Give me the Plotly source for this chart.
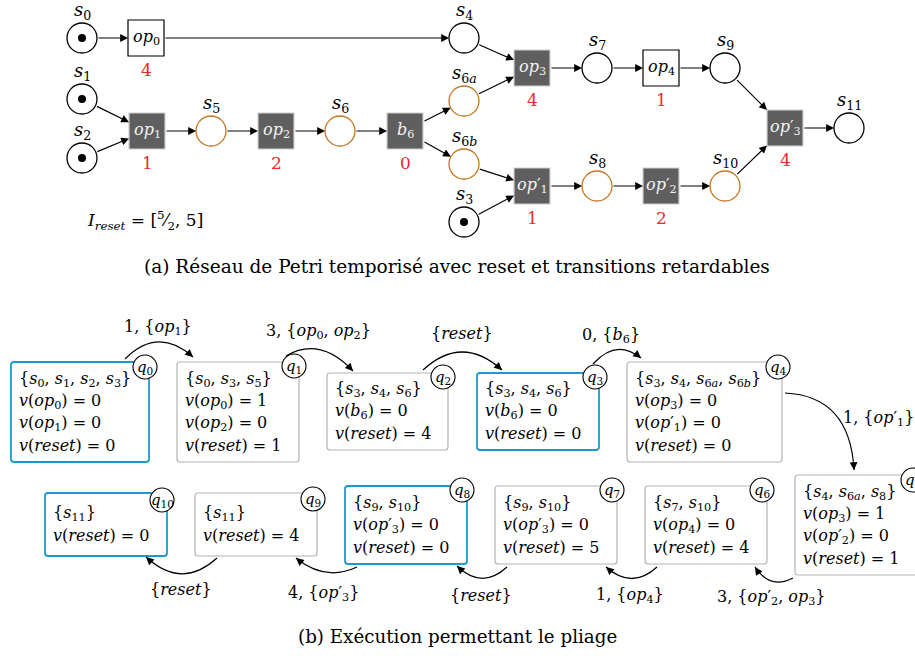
import re
import math
import plotly.graph_objects as go

W, H = 915, 656
FONT = "DejaVu Serif"

# ---------------- data : Petri net ----------------
PLACES = ["s0", "s1", "s2", "s3", "s4", "s5", "s6", "s6a", "s6b", "s7", "s8", "s9", "s10", "s11"]
TOKENS = [1, 1, 1, 1, 0, 0, 0, 0, 0, 0, 0, 0, 0, 0]
RESET_PLACES = ["s5", "s6", "s6a", "s6b", "s8", "s10"]
TRANSITIONS = ["op0", "op1", "op2", "b6", "op3", "op4", "op1'", "op2'", "op3'"]
DELAYS = [4, 1, 2, 0, 4, 1, 1, 2, 4]
DELAYABLE = ["op1", "op2", "b6", "op3", "op1'", "op2'", "op3'"]
ARCS = [("s0", "op0"), ("op0", "s4"), ("s1", "op1"), ("s2", "op1"), ("op1", "s5"),
        ("s5", "op2"), ("op2", "s6"), ("s6", "b6"), ("b6", "s6a"), ("b6", "s6b"),
        ("s4", "op3"), ("s6a", "op3"), ("op3", "s7"), ("s7", "op4"), ("op4", "s9"),
        ("s9", "op3'"), ("s10", "op3'"), ("op3'", "s11"), ("s6b", "op1'"), ("s3", "op1'"),
        ("op1'", "s8"), ("s8", "op2'"), ("op2'", "s10")]
RESET_LOW = ("5", "2")
RESET_HIGH = "5"

# ---------------- data : execution ----------------
STATES = ["q0", "q1", "q2", "q3", "q4", "q5", "q6", "q7", "q8", "q9", "q10"]
MARKINGS = [["s0", "s1", "s2", "s3"], ["s0", "s3", "s5"], ["s3", "s4", "s6"], ["s3", "s4", "s6"],
            ["s3", "s4", "s6a", "s6b"], ["s4", "s6a", "s8"], ["s7", "s10"], ["s9", "s10"],
            ["s9", "s10"], ["s11"], ["s11"]]
CLOCK_VARS = [["op0", "op1", "reset"], ["op0", "op2", "reset"], ["b6", "reset"], ["b6", "reset"],
              ["op3", "op1'", "reset"], ["op3", "op2'", "reset"], ["op4", "reset"],
              ["op3'", "reset"], ["op3'", "reset"], ["reset"], ["reset"]]
CLOCK_VALUES = [[0, 0, 0], [1, 0, 1], [0, 4], [0, 0], [0, 0, 0], [1, 0, 1], [0, 4],
                [0, 5], [0, 0], [4], [0]]
FOLD_STATES = ["q0", "q3", "q8", "q10"]
EDGES = [("q0", "q1"), ("q1", "q2"), ("q2", "q3"), ("q3", "q4"), ("q4", "q5"),
         ("q5", "q6"), ("q6", "q7"), ("q7", "q8"), ("q8", "q9"), ("q9", "q10")]
EDGE_DELAY = [1, 3, None, 0, 1, 3, 1, None, 4, None]
EDGE_FIRED = [["op1"], ["op0", "op2"], ["reset"], ["b6"], ["op1'"], ["op2'", "op3"],
              ["op4"], ["reset"], ["op3'"], ["reset"]]

CAPTION_A = "(a) Réseau de Petri temporisé avec reset et transitions retardables"
CAPTION_B = "(b) Exécution permettant le pliage"

# ---------------- layout (pixel positions) ----------------
POS = {"s0": (82, 38), "s1": (82, 99), "s2": (82, 158), "s3": (464, 222), "s4": (464, 38),
       "s5": (211, 131), "s6": (340, 131), "s6a": (464, 101), "s6b": (464, 164),
       "s7": (597, 68), "s8": (597, 186), "s9": (725, 68), "s10": (725, 186), "s11": (849, 128),
       "op0": (146, 38), "op1": (147, 131), "op2": (276, 131), "b6": (405, 131),
       "op3": (532, 68), "op4": (661, 68), "op1'": (532, 186), "op2'": (661, 186),
       "op3'": (785, 128)}
PR = 15      # place radius
TH = 18      # transition half size

BOX = {"q0": (11, 362, 149, 462), "q1": (177, 362, 299, 462), "q2": (327, 373, 448, 450),
       "q3": (477, 373, 599, 450), "q4": (627, 362, 782, 462), "q5": (795, 475, 935, 575),
       "q6": (645, 486, 767, 564), "q7": (495, 486, 617, 564), "q8": (345, 486, 467, 564),
       "q9": (195, 493, 317, 556), "q10": (45, 493, 167, 556)}
QC = {"q0": (145, 367), "q1": (294, 366), "q2": (443, 377), "q3": (595, 377), "q4": (778, 367),
      "q5": (913, 480), "q6": (762, 490), "q7": (612, 490), "q8": (462, 490), "q9": (313, 499),
      "q10": (162, 500)}
# bezier (start, control, end)
CURVES = [((125, 359), (158, 326), (193, 357)),
          ((286, 356), (320, 336), (353, 371)),
          ((423, 370), (462, 334), (502, 370)),
          ((593, 364), (616, 338), (641, 358)),
          ((785, 393), (850, 396), (854, 470)),
          ((793, 578), (770, 590), (755, 567)),
          ((657, 567), (632, 590), (606, 567)),
          ((507, 567), (482, 590), (457, 566)),
          ((357, 567), (325, 582), (296, 558)),
          ((217, 558), (182, 590), (146, 557))]
LABEL_POS = [(158, 327), (318, 331), (462, 333), (611, 335), (878, 418),
             (771, 597), (630, 595), (481, 595), (323, 593), (181, 589)]

BLUE = "#1b9cc9"
GRAYB = "#b4b4b4"
ORANGE = "#c8741c"
RED = "#f02828"
DARK = "#5f5f5f"


def fmt(name):
    if name == "reset":
        return "<i>reset</i>"
    base, num, suf, prime = re.match(r"([a-z]+?)(\d+)([a-z]?)('?)$", name).groups()
    sub = num + (f"<i>{suf}</i>" if suf else "")
    return f"<i>{base}</i>" + ("′" if prime else "") + f"<sub>{sub}</sub>"


def clip(node, toward):
    x, y = POS[node]
    tx, ty = toward
    dx, dy = tx - x, ty - y
    if node in TRANSITIONS:
        s = TH / max(abs(dx), abs(dy))
    else:
        s = PR / math.hypot(dx, dy)
    return x + dx * s, y + dy * s


def rrect(x0, y0, x1, y1, r=3):
    return (f"M{x0+r},{y0} L{x1-r},{y0} Q{x1},{y0} {x1},{y0+r} L{x1},{y1-r} "
            f"Q{x1},{y1} {x1-r},{y1} L{x0+r},{y1} Q{x0},{y1} {x0},{y1-r} "
            f"L{x0},{y0+r} Q{x0},{y0} {x0+r},{y0} Z")


shapes, ann = [], []


def text(x, y, s, size=17, color="black", xanchor="center"):
    ann.append(dict(x=x, y=y, text=s, showarrow=False, xanchor=xanchor, yanchor="middle",
                    font=dict(family=FONT, size=size, color=color)))


# places
for p, tok in zip(PLACES, TOKENS):
    x, y = POS[p]
    col = ORANGE if p in RESET_PLACES else "black"
    shapes.append(dict(type="circle", x0=x-PR, x1=x+PR, y0=y-PR, y1=y+PR,
                       line=dict(color=col, width=1.3), fillcolor="white"))
    if tok:
        shapes.append(dict(type="circle", x0=x-4, x1=x+4, y0=y-4, y1=y+4,
                           line=dict(color="black", width=0), fillcolor="black"))
    text(x, y - 27, fmt(p), size=18)

# transitions
for t, d in zip(TRANSITIONS, DELAYS):
    x, y = POS[t]
    filled = t in DELAYABLE
    shapes.append(dict(type="rect", x0=x-TH, x1=x+TH, y0=y-TH, y1=y+TH,
                       line=dict(color="#d0d0d0" if filled else "black", width=1.2),
                       fillcolor=DARK if filled else "white"))
    text(x, y - 1, fmt(t), size=16, color="#f4f4f4" if filled else "black")
    text(x, y + 32, str(d), size=17, color=RED)

# arcs
for a, b in ARCS:
    sx, sy = clip(a, POS[b])
    ex, ey = clip(b, POS[a])
    ann.append(dict(x=ex, y=ey, ax=sx, ay=sy, axref="x", ayref="y", xref="x", yref="y",
                    text="", showarrow=True, arrowhead=2, arrowsize=1.3, arrowwidth=1.2,
                    arrowcolor="black", standoff=0, startstandoff=0))

text(145, 220, f"<i>I</i><sub><i>reset</i></sub> = [<sup>{RESET_LOW[0]}</sup>⁄<sub>{RESET_LOW[1]}</sub>, {RESET_HIGH}]", size=17)
text(457, 266, CAPTION_A, size=18.5)

# states
for q, mk, cv, vals in zip(STATES, MARKINGS, CLOCK_VARS, CLOCK_VALUES):
    x0, y0, x1, y1 = BOX[q]
    shapes.append(dict(type="path", path=rrect(x0, y0, x1, y1),
                       line=dict(color=BLUE if q in FOLD_STATES else GRAYB,
                                 width=1.8 if q in FOLD_STATES else 1.2),
                       fillcolor="white"))
    lines = ["{" + ", ".join(fmt(s) for s in mk) + "}"]
    lines += [f"<i>v</i>({fmt(v)}) = {val}" for v, val in zip(cv, vals)]
    n = len(lines)
    yc = (y0 + y1) / 2
    for i, ln in enumerate(lines):
        text(x0 + 6, yc - (n - 1) * 11 + 22 * i, ln, size=16, xanchor="left")

for q in STATES:
    cx, cy = QC[q]
    shapes.append(dict(type="circle", x0=cx-12, x1=cx+12, y0=cy-12, y1=cy+12,
                       line=dict(color="black", width=1.1), fillcolor="white"))
    text(cx, cy, fmt(q), size=15)

# edges
for (a, b), dl, fired, (s, c, e), lp in zip(EDGES, EDGE_DELAY, EDGE_FIRED, CURVES, LABEL_POS):
    shapes.append(dict(type="path", path=f"M{s[0]},{s[1]} Q{c[0]},{c[1]} {e[0]},{e[1]}",
                       line=dict(color="black", width=1.2)))
    ux, uy = e[0] - c[0], e[1] - c[1]
    L = math.hypot(ux, uy)
    ann.append(dict(x=e[0], y=e[1], ax=-ux / L * 6, ay=-uy / L * 6, xref="x", yref="y",
                    text="", showarrow=True, arrowhead=2, arrowsize=1.3, arrowwidth=1.2,
                    arrowcolor="black", standoff=0))
    lab = "{" + ", ".join(fmt(f) for f in fired) + "}"
    if dl is not None:
        lab = f"{dl}, " + lab
    text(lp[0], lp[1], lab, size=16)

text(457, 636, CAPTION_B, size=18.3)

fig = go.Figure()
fig.add_trace(go.Scatter(x=[0], y=[0], mode="markers", marker=dict(opacity=0), hoverinfo="skip",
                         showlegend=False))
fig.update_layout(width=W, height=H, margin=dict(l=0, r=0, t=0, b=0),
                  paper_bgcolor="white", plot_bgcolor="white", shapes=shapes, annotations=ann,
                  xaxis=dict(range=[0, W], visible=False, fixedrange=True),
                  yaxis=dict(range=[H, 0], visible=False, fixedrange=True),
                  showlegend=False)
fig.write_html("out.html", config={"displayModeBar": False},
               post_script="document.body.style.margin='0';document.body.style.overflow='hidden';")
